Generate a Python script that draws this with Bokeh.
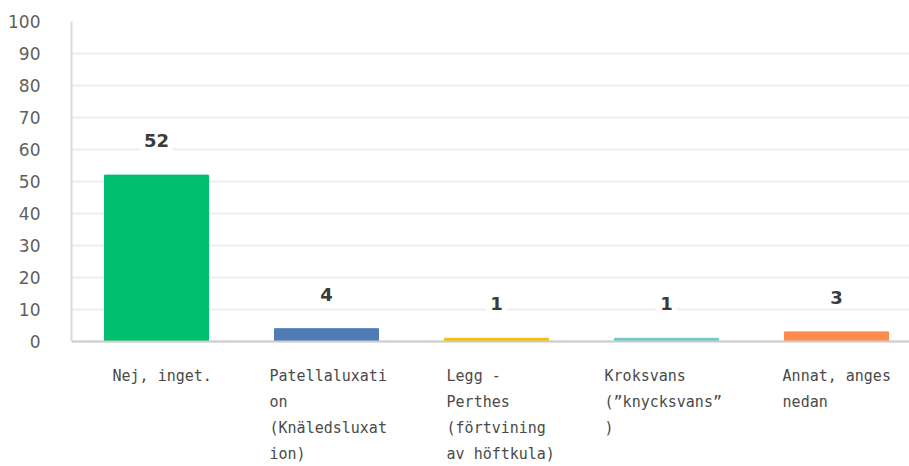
from bokeh.plotting import figure
from bokeh.models import ColumnDataSource, FixedTicker, Range1d, Label, Span
from bokeh.core.properties import value
from bokeh.embed import file_html
from bokeh.resources import INLINE

categories = ["Nej, inget.",
              "Patellaluxati\non\n(Knäledsluxat\nion)",
              "Legg -\nPerthes\n(förtvining\nav höftkula)",
              "Kroksvans\n(\u201dknycksvans\u201d\n)",
              "Annat, anges\nnedan"]
values = [52, 4, 1, 1, 3]
colors = ["#00BF6F", "#507CB6", "#F9BE00", "#6BC8CD", "#FF8B4F"]
y_ticks = [0, 10, 20, 30, 40, 50, 60, 70, 80, 90, 100]

# horizontal pixel shift of each category text block (style only)
label_shift = [-44, -57, -50, -62, -54]

xs = list(range(len(values)))
src = ColumnDataSource(dict(x=xs, top=values, color=colors))
lsrc = ColumnDataSource(dict(x=xs, y=[0] * len(xs), text=categories, dx=label_shift))

p = figure(width=909, height=466, output_backend="svg", toolbar_location=None,
           x_range=Range1d(-0.5, 4.429), y_range=Range1d(-39.06, 100),
           x_axis_location=None,
           min_border_left=71, min_border_right=0, min_border_top=21,
           min_border_bottom=0)
p.outline_line_color = None
p.background_fill_color = "white"
p.border_fill_color = "white"

num_font = "DejaVu Sans"
cat_font = "DejaVu Sans Mono"

p.xgrid.grid_line_color = None
p.ygrid.grid_line_color = "#eeeeee"
p.ygrid.grid_line_width = 2
p.ygrid.ticker = FixedTicker(ticks=y_ticks)
p.yaxis.ticker = FixedTicker(ticks=y_ticks)
p.yaxis.bounds = (0, 100)
p.yaxis.axis_line_color = "#dcdcdc"
p.yaxis.axis_line_width = 2
p.yaxis.major_tick_line_color = None
p.yaxis.minor_tick_line_color = None
p.yaxis.major_label_standoff = 25
p.yaxis.major_label_text_font = num_font
p.yaxis.major_label_text_font_size = "17px"
p.yaxis.major_label_text_color = "#5f5f5f"

p.add_layout(Span(location=0, dimension="width", line_color="#cccccc", line_width=2))

p.vbar(x="x", top="top", width=0.612, color="color", source=src)

for x, v in zip(xs, values):
    p.add_layout(Label(x=x, y=v, text=str(v), text_align="center",
                       text_baseline="bottom", y_offset=24,
                       text_font=num_font, text_font_size="18px",
                       text_font_style="bold", text_color="#3b3b3b",
                       background_fill_color="white",
                       padding=4))

p.text(x="x", y="y", text="text", source=lsrc, x_offset="dx", y_offset=25,
       text_align="left", text_baseline="top",
       text_font=value(cat_font), text_font_size="15px",
       text_color="#4a4a4a", text_line_height=1.45)

open("out.html", "w").write(file_html(p, INLINE))
